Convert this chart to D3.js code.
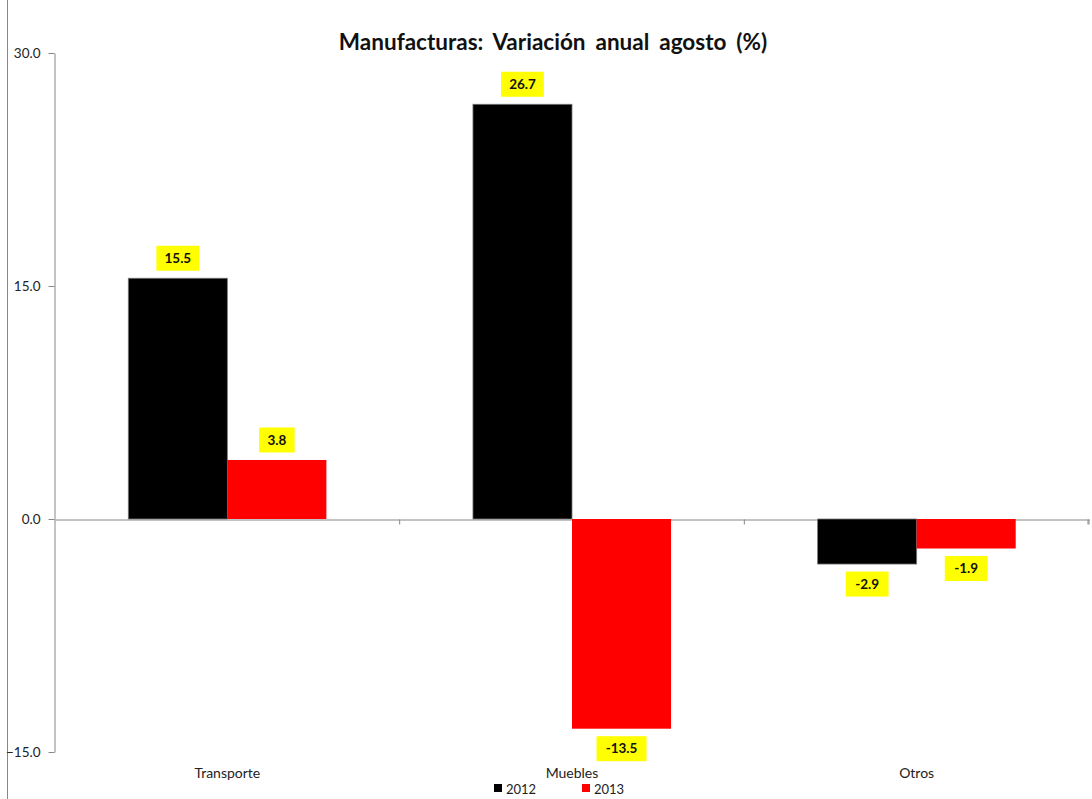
<!DOCTYPE html>
<html><head><meta charset="utf-8">
<script src="https://cdn.jsdelivr.net/npm/d3@7"></script>
<style>body{margin:0;background:#fff}svg{display:block}text{font-family:Lato,"Open Sans",sans-serif}</style>
</head><body>
<svg id="c" width="1092" height="799"></svg>
<script>
const categories = ["Transporte", "Muebles", "Otros"];
const seriesNames = ["2012", "2013"];
const values2012 = [15.5, 26.7, -2.9];
const values2013 = [3.8, -13.5, -1.9];
const colors = ["#000000", "#ff0000"];
const yTicks = [-15, 0, 15, 30];
const title = "Manufacturas: Variación anual agosto (%)";

const svg = d3.select("#c");
const mLeft = 54, mRight = 1088, mTop = 53, mBottom = 752;
// frame
svg.append("rect").attr("x", 7.5).attr("y", -2).attr("width", 1100).attr("height", 810)
  .attr("fill", "none").attr("stroke", "#888").attr("stroke-width", 1);

const y = d3.scaleLinear().domain([-15, 30]).range([mBottom, mTop]);
const x0 = d3.scaleBand().domain(categories).range([mLeft + 1, mRight + 1]).paddingInner(0).paddingOuter(0);
const x1 = d3.scaleBand().domain(seriesNames).range([0, x0.bandwidth()]).paddingOuter(0.74).paddingInner(0);

// y axis
const yAxis = d3.axisLeft(y).tickValues(yTicks).tickFormat(d3.format(".1f")).tickSize(6).tickSizeOuter(0);
const gy = svg.append("g").attr("transform", `translate(${mLeft + 0.5},0)`).call(yAxis);
gy.select(".domain").attr("stroke", "#888");
gy.selectAll(".tick line").attr("stroke", "#888");
gy.selectAll(".tick text").attr("font-size", 13.5).attr("fill", "#222").attr("x", -14).attr("dy", "0.32em");

// x axis at zero
const xAxis = d3.axisBottom(x0).tickSize(5).tickSizeOuter(0).tickFormat("");
const gx = svg.append("g").attr("transform", `translate(0,${Math.round(y(0)) + 0.5})`).call(xAxis);
gx.select(".domain").attr("stroke", "#888");
gx.selectAll(".tick line").attr("stroke", "#888")
  .attr("transform", d => `translate(${x0.bandwidth() / 2},0)`);
gx.append("line").attr("x1", mRight).attr("x2", mRight).attr("y1", 0).attr("y2", 5).attr("stroke", "#888");

// category labels
svg.append("g").selectAll("text").data(categories).join("text")
  .attr("x", d => x0(d) + x0.bandwidth() / 2).attr("y", 778)
  .attr("text-anchor", "middle").attr("font-size", 14).attr("fill", "#222").text(d => d);

const data = categories.map((c, i) => ({ cat: c, vals: [values2012[i], values2013[i]] }));

const groups = svg.append("g").selectAll("g").data(data).join("g")
  .attr("transform", d => `translate(${x0(d.cat)},0)`);
groups.selectAll("rect").data(d => d.vals.map((v, j) => ({ v, s: seriesNames[j], j }))).join("rect")
  .attr("x", d => x1(d.s)).attr("width", x1.bandwidth())
  .attr("y", d => y(Math.max(0, d.v))).attr("height", d => Math.abs(y(d.v) - y(0)))
  .attr("fill", d => colors[d.j])
  .attr("stroke", d => d.j === 0 ? "#777" : "none").attr("stroke-width", 0.8);

// labels
const lab = groups.selectAll("g.lab").data(d => d.vals.map((v, j) => ({ v, s: seriesNames[j], j }))).join("g")
  .attr("class", "lab")
  .attr("transform", d => {
    const cx = x1(d.s) + x1.bandwidth() / 2;
    const cy = d.v >= 0 ? y(d.v) - 20 : y(d.v) + 20;
    return `translate(${cx},${cy})`;
  });
const halfW = d => d.v.toFixed(1).length * 3.6 + 7;
lab.append("rect").attr("x", d => -halfW(d)).attr("y", -12.5)
  .attr("width", d => 2 * halfW(d)).attr("height", 25).attr("fill", "#ffff00");
lab.append("text").attr("text-anchor", "middle").attr("dy", "0.35em").attr("font-size", 13.5)
  .attr("font-weight", "bold").attr("fill", "#111").text(d => d.v.toFixed(1));

// title
svg.append("text").attr("x", 553).attr("y", 50).attr("text-anchor", "middle")
  .attr("font-size", 22.5).attr("word-spacing", 4.5).attr("font-weight", "bold").attr("fill", "#111").text(title);

// legend
const lg = svg.append("g").selectAll("g").data(seriesNames).join("g")
  .attr("transform", (d, i) => `translate(${494 + i * 88},783)`);
lg.append("rect").attr("width", 8).attr("height", 8).attr("y", 1).attr("fill", (d, i) => colors[i]);
lg.append("text").attr("x", 12).attr("y", 10.5).attr("font-size", 13).attr("fill", "#222").text(d => d);
</script>
</body></html>
